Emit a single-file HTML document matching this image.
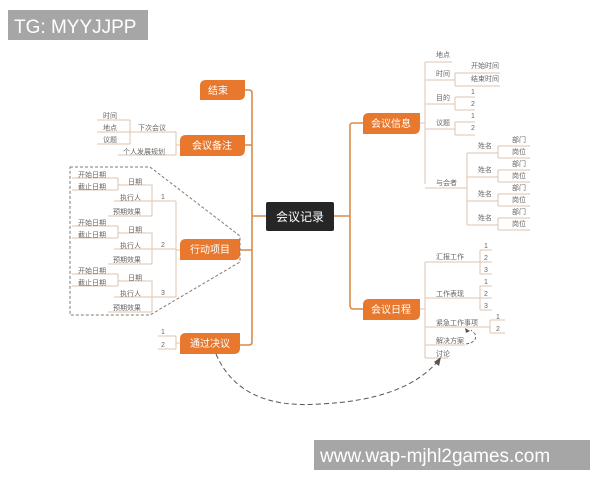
<!DOCTYPE html>
<html><head><meta charset="utf-8"><style>
html,body{margin:0;padding:0;background:#fff;}
svg{display:block;}
.t{font-family:"Liberation Sans","Noto Sans CJK SC",sans-serif;font-size:7px;fill:#666;}
.o{font-family:"Liberation Sans","Noto Sans CJK SC",sans-serif;font-size:10px;fill:#fff;text-anchor:middle;}
.l{stroke:#dcc6b2;stroke-width:1;fill:none;}
.m{stroke:#d98a4a;stroke-width:1.6;fill:none;}
</style></head><body>
<svg width="600" height="480" viewBox="0 0 600 480" xmlns="http://www.w3.org/2000/svg">
<rect width="600" height="480" fill="#fff"/>
<!-- trunks -->
<path class="m" d="M245 90 H249 Q252 90 252 93 V342 Q252 345 249 345 H240 M245 145 H252 M240 250 H252 M252 216 H266"/>
<path class="m" d="M334 216 H350 M363 123 H353 Q350 123 350 126 V305 Q350 309 353 309 H363"/>
<!-- orange nodes -->
<g fill="#e8782e">
<path d="M206 80 H245 V94 Q245 100 239 100 H200 V86 Q200 80 206 80Z"/>
<path d="M186 135 H245 V149 Q245 156 239 156 H180 V141 Q180 135 186 135Z"/>
<path d="M186 239 H240 V254 Q240 260 234 260 H180 V245 Q180 239 186 239Z"/>
<path d="M186 333 H240 V348 Q240 354 234 354 H180 V339 Q180 333 186 333Z"/>
<path d="M369 113 H420 V127 Q420 134 414 134 H363 V119 Q363 113 369 113Z"/>
<path d="M369 299 H420 V314 Q420 320 414 320 H363 V305 Q363 299 369 299Z"/>
</g>
<text class="o" x="218" y="94">结束</text>
<text class="o" x="212" y="149">会议备注</text>
<text class="o" x="210" y="253">行动项目</text>
<text class="o" x="210" y="347">通过决议</text>
<text class="o" x="391" y="127">会议信息</text>
<text class="o" x="391" y="313">会议日程</text>
<rect x="266" y="202" width="68" height="29" rx="2" fill="#262626"/>
<text x="300" y="221" style="font-family:'Liberation Sans','Noto Sans CJK SC',sans-serif;font-size:12px;fill:#fff;text-anchor:middle">会议记录</text>

<!-- 会议备注 children -->
<path class="l" d="M180 145 H176 M176 132 V155 M176 132 H130 M176 155 H118 M130 120 V144 M130 120 H97 M130 132 H97 M130 144 H97 M130 132 H176"/>
<text class="t" x="138" y="130">下次会议</text>
<text class="t" x="123" y="154">个人发展规划</text>
<text class="t" x="103" y="118">时间</text>
<text class="t" x="103" y="130">地点</text>
<text class="t" x="103" y="142">议题</text>

<!-- 行动项目 dashed group -->
<path d="M70 167 H150 L240 236 V262 L150 315 H70 Z" fill="none" stroke="#8a7a6a" stroke-width="1" stroke-dasharray="3,2"/>
<path class="l" d="M180 250 H176 M176 201 V297 M176 201 H152 M176 249 H152 M176 297 H152"/>
<g id="grp">
<path class="l" d="M152 201 V216 M152 201 V185 H118 M152 201 H114 M152 216 H108 M118 178 V190 M118 178 H72 M118 190 H72 M118 185 H118"/>
</g>
<g transform="translate(0,48)"><path class="l" d="M152 201 V216 M152 201 V185 H118 M152 201 H114 M152 216 H108 M118 178 V190 M118 178 H72 M118 190 H72"/></g>
<g transform="translate(0,96)"><path class="l" d="M152 201 V216 M152 201 V185 H118 M152 201 H114 M152 216 H108 M118 178 V190 M118 178 H72 M118 190 H72"/></g>
<g class="t">
<text x="161" y="199">1</text><text x="161" y="247">2</text><text x="161" y="295">3</text>
<text x="78" y="177">开始日期</text><text x="78" y="189">截止日期</text><text x="128" y="184">日期</text><text x="120" y="200">执行人</text><text x="113" y="214">预期效果</text>
<text x="78" y="225">开始日期</text><text x="78" y="237">截止日期</text><text x="128" y="232">日期</text><text x="120" y="248">执行人</text><text x="113" y="262">预期效果</text>
<text x="78" y="273">开始日期</text><text x="78" y="285">截止日期</text><text x="128" y="280">日期</text><text x="120" y="296">执行人</text><text x="113" y="310">预期效果</text>
</g>
<!-- 通过决议 -->
<path class="l" d="M180 343 H176 M176 336 V349 M176 336 H158 M176 349 H158"/>
<text class="t" x="161" y="334">1</text><text class="t" x="161" y="347">2</text>

<!-- 会议信息 children -->
<path class="l" d="M420 123 H425 M425 62 V184 M425 62 H452 M425 80 H455 M455 73 V86 M455 73 H500 M455 86 H500 M425 104 H455 M455 97 V110 M455 97 H475 M455 110 H475 M425 129 H455 M455 122 V135 M455 122 H475 M455 135 H475 M425 188 H467 M467 153 V225 M467 153 H498 M467 177 H498 M467 201 H498 M467 225 H498"/>
<path class="l" d="M498 146 V158 M498 146 H530 M498 158 H530 M498 170 V182 M498 170 H530 M498 182 H530 M498 194 V206 M498 194 H530 M498 206 H530 M498 218 V230 M498 218 H530 M498 230 H530"/>
<g class="t">
<text x="436" y="57">地点</text><text x="436" y="76">时间</text><text x="471" y="68">开始时间</text><text x="471" y="81">结束时间</text>
<text x="436" y="100">目的</text><text x="471" y="94">1</text><text x="471" y="106">2</text>
<text x="436" y="125">议题</text><text x="471" y="118">1</text><text x="471" y="130">2</text>
<text x="436" y="185">与会者</text>
<text x="478" y="148">姓名</text><text x="478" y="172">姓名</text><text x="478" y="196">姓名</text><text x="478" y="220">姓名</text>
<text x="512" y="142">部门</text><text x="512" y="154">岗位</text><text x="512" y="166">部门</text><text x="512" y="178">岗位</text>
<text x="512" y="190">部门</text><text x="512" y="202">岗位</text><text x="512" y="214">部门</text><text x="512" y="226">岗位</text>
</g>
<!-- 会议日程 children -->
<path class="l" d="M420 309 H425 M425 262 V358 M425 262 H480 M480 250 V274 M480 250 H492 M480 262 H492 M480 274 H492 M425 298 H480 M480 286 V310 M480 286 H492 M480 298 H492 M480 310 H492 M425 327 H490 M490 320 V333 M490 320 H505 M490 333 H505 M425 345 H465 M425 358 H448"/>
<g class="t">
<text x="436" y="259">汇报工作</text><text x="484" y="248">1</text><text x="484" y="260">2</text><text x="484" y="272">3</text>
<text x="436" y="296">工作表现</text><text x="484" y="284">1</text><text x="484" y="296">2</text><text x="484" y="308">3</text>
<text x="436" y="325">紧急工作事项</text><text x="496" y="319">1</text><text x="496" y="331">2</text>
<text x="436" y="343">解决方案</text><text x="436" y="356">讨论</text>
</g>
<!-- dashed arrows -->
<path d="M466 344 Q478 342 475 334 L471 330" fill="none" stroke="#555" stroke-width="0.8" stroke-dasharray="3,2"/>
<path d="M465 328 L470 331 L466 333 Z" fill="#555"/>
<path d="M216 354 Q240 410 320 404 Q405 400 438 361" fill="none" stroke="#555" stroke-width="1" stroke-dasharray="5,3"/>
<path d="M441 357 L439 366 L434 362 Z" fill="#555"/>

<!-- watermarks -->
<rect x="8" y="10" width="140" height="30" fill="#a6a6a6"/>
<text x="14" y="33" style="font-family:'Liberation Sans',sans-serif;font-size:19px;fill:#fff">TG: MYYJJPP</text>
<rect x="314" y="440" width="276" height="30" fill="#a6a6a6"/>
<text x="320" y="462" style="font-family:'Liberation Sans',sans-serif;font-size:19px;fill:#fff">www.wap-mjhl2games.com</text>
</svg>
</body></html>
